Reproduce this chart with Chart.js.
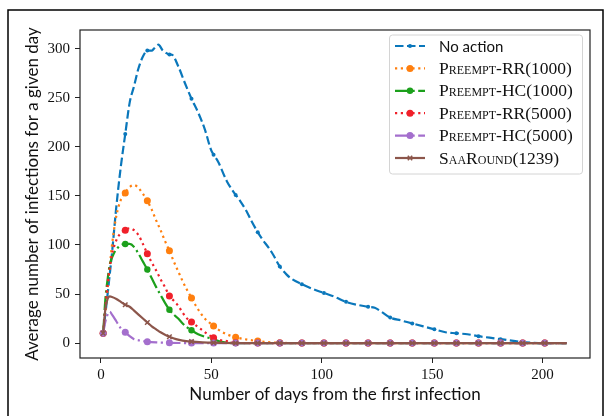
<!DOCTYPE html>
<html>
<head>
<meta charset="utf-8">
<script src="https://cdn.jsdelivr.net/npm/chart.js@4.4.1/dist/chart.umd.min.js"></script>
<style>
  html, body { margin: 0; padding: 0; background: #fff; }
  #wrap { position: relative; width: 605px; height: 416px; }
</style>
</head>
<body>
<div id="wrap"><canvas id="infChart" width="605" height="416"></canvas></div>
<script>
// days on the x axis
const markDays = [1, 11, 21, 31, 41, 51, 61, 71, 81, 91, 101, 111, 121, 131, 141, 151, 161, 171, 181, 191, 201];
const tailDays = [61, 71, 81, 91, 101, 111, 121, 131, 141, 151, 161, 171, 181, 191, 201, 211];
const tailZeros = tailDays.map(() => 0);

const noActionDays = [1, 3, 5, 7, 9, 11, 13, 15, 17, 19, 21, 23, 24, 26, 28, 30, 31, 32, 35, 38, 41, 44, 47, 50, 51, 53, 57, 61, 63, 66, 68, 71, 73, 76, 78, 81, 84, 86, 91, 96, 101, 106, 111, 116, 121, 124, 127, 131, 136, 141, 146, 151, 156, 161, 166, 171, 176, 181, 186, 191, 196, 201, 211];
const noActionVals = [10, 50, 92, 140, 180, 213, 245, 262, 280, 292, 298, 298, 300, 304, 298, 295, 294, 294, 282, 265, 249, 235, 218, 196, 192, 185, 165, 151, 145, 134, 125, 113, 106, 97, 90, 78, 70, 66, 60, 55, 51, 47, 42, 39, 37, 36, 32, 26, 23, 20, 17, 14, 11, 10, 9, 7, 5.5, 4, 2.5, 1, 0.3, 0, 0];

const rr1000Days = [1, 3, 5, 7, 9, 11, 13, 15, 17, 19, 21, 23, 25, 27, 29, 31, 33, 35, 37, 39, 41, 43, 45, 47, 49, 51, 53, 56].concat(tailDays);
const rr1000Vals = [10, 55, 100, 130, 146, 153, 159, 161, 158, 152, 145, 136, 125, 115, 104, 94, 83, 73, 63, 54, 46, 38, 31, 25, 21, 17.5, 14, 10, 6, 2, 0.3, 0, 0, 0, 0, 0, 0, 0, 0, 0, 0, 0, 0, 0];

const hc1000Days = [1, 2, 3, 4, 6, 8, 11, 13, 15, 17, 19, 21, 23, 25, 27, 29, 31, 33, 35, 37, 39, 41, 44, 47, 51, 54].concat(tailDays);
const hc1000Vals = [10, 45, 65, 80, 92, 98, 101, 101, 98, 91, 83, 75, 66, 57, 49, 41, 34, 29, 25, 20, 16, 13, 9, 6.5, 4, 1.5].concat(tailZeros);

const rr5000Days = [1, 3, 5, 7, 9, 11, 13, 15, 17, 19, 21, 23, 25, 27, 29, 31, 33, 35, 37, 39, 41, 43, 46, 49, 51, 54, 57].concat(tailDays);
const rr5000Vals = [10, 60, 90, 105, 112, 115, 117, 115, 110, 101, 91, 82, 74, 65, 57, 48, 43, 38, 31, 25, 21.5, 18, 13, 8, 5.5, 3, 2, 0.3, 0, 0, 0, 0, 0, 0, 0, 0, 0, 0, 0, 0, 0, 0, 0];

const hc5000Days = [1, 2, 3, 4, 5, 7, 9, 11, 13, 15, 18, 21, 26, 31, 41, 51].concat(tailDays);
const hc5000Vals = [10, 22, 29, 32, 29, 22, 15, 11, 7, 4, 2.5, 1.3, 0.6, 0.3, 0, 0].concat(tailZeros);

const saaDays = [1, 2, 3, 4, 5, 7, 9, 11, 13, 15, 17, 19, 21, 23, 25, 27, 29, 31, 34, 37, 41, 46, 51].concat(tailDays);
const saaVals = [10, 35, 45, 47.5, 47, 45, 42, 39, 37, 33, 29, 25, 21, 17, 14, 11, 8.5, 6.5, 4, 2.5, 1.5, 0.8, 0.4].concat(tailZeros);

const seriesLabels = ['No action', 'Preempt-RR(1000)', 'Preempt-HC(1000)', 'Preempt-RR(5000)', 'Preempt-HC(5000)', 'SaaRound(1239)'];
const yTicks = [0, 50, 100, 150, 200, 250, 300];
const xTicks = [0, 50, 100, 150, 200];

const colors = ['#0a77bb', '#ff7f0e', '#1ca01c', '#f0202a', '#a46fcd', '#8c564b'];
const dashes = [[8.5, 3.5], [2.2, 3.6], [14, 3.5, 2.2, 3.5], [2.2, 3.6], [14, 3.5, 2.2, 3.5], []];
const marks = [
  { style: 'circle', r: 2 },
  { style: 'circle', r: 3.5 },
  { style: 'circle', r: 3.2 },
  { style: 'circle', r: 3.5 },
  { style: 'circle', r: 3.5 },
  { style: 'crossRot', r: 3.2 }
];

const sansFont = 'Lato, "DejaVu Sans", sans-serif';
const serifFont = '"Liberation Serif", "DejaVu Serif", serif';

function toPoints(days, vals) {
  return days.map((d, i) => ({ x: d, y: vals[i] }));
}

const allData = [
  toPoints(noActionDays, noActionVals),
  toPoints(rr1000Days, rr1000Vals),
  toPoints(hc1000Days, hc1000Vals),
  toPoints(rr5000Days, rr5000Vals),
  toPoints(hc5000Days, hc5000Vals),
  toPoints(saaDays, saaVals)
];

const datasets = allData.map((pts, i) => ({
  label: seriesLabels[i],
  data: pts,
  borderColor: colors[i],
  backgroundColor: colors[i],
  borderWidth: 2.2,
  borderDash: dashes[i],
  cubicInterpolationMode: 'monotone',
  pointStyle: marks[i].style,
  pointRadius: ctx => (ctx.raw && markDays.includes(ctx.raw.x)) ? marks[i].r : 0,
  pointBorderWidth: (marks[i].style === 'circle') ? 0 : 1.5,
  pointHoverRadius: 0,
  order: 6 - i
}));

// frame around the plot and the figure
const framePlugin = {
  id: 'frames',
  beforeDraw(chart) {
    const c = chart.ctx;
    c.save();
    c.strokeStyle = '#000';
    c.lineWidth = 1.5;
    c.beginPath();
    c.moveTo(8, 416);
    c.lineTo(8, 10);
    c.lineTo(603, 10);
    c.lineTo(603, 416);
    c.stroke();
    c.restore();
  },
  afterDatasetsDraw(chart) {
    const a = chart.chartArea;
    const c = chart.ctx;
    c.save();
    c.strokeStyle = '#222';
    c.lineWidth = 1.2;
    c.strokeRect(a.left, a.top, a.right - a.left, a.bottom - a.top);
    c.restore();
  }
};

// legend drawn by hand: mixed fonts and line samples
const legendPlugin = {
  id: 'hand_legend',
  afterDraw(chart) {
    const c = chart.ctx;
    const bx = 389.5, by = 35, bw = 193, bh = 139;
    c.save();
    c.fillStyle = 'rgba(255,255,255,0.85)';
    c.strokeStyle = '#d4d4d4';
    c.lineWidth = 1;
    c.beginPath();
    c.roundRect(bx, by, bw, bh, 3);
    c.fill();
    c.stroke();

    seriesLabels.forEach((lab, i) => {
      const y = 46 + i * 22.4;
      c.strokeStyle = colors[i];
      c.lineWidth = 2.2;
      c.setLineDash(dashes[i]);
      c.beginPath();
      c.moveTo(395, y);
      c.lineTo(425, y);
      c.stroke();
      c.setLineDash([]);
      // marker in the middle
      const r = marks[i].r;
      c.fillStyle = colors[i];
      c.lineWidth = 1.5;
      c.beginPath();
      if (marks[i].style === 'circle') {
        c.arc(410, y, r, 0, Math.PI * 2);
        c.fill();
      } else {
        const d = r * 0.7;
        c.moveTo(410 - d, y - d); c.lineTo(410 + d, y + d);
        c.moveTo(410 - d, y + d); c.lineTo(410 + d, y - d);
        c.stroke();
      }
      c.fillStyle = '#111';
      c.textBaseline = 'middle';
      if (i === 0) {
        c.font = '15px ' + sansFont;
      } else {
        c.font = 'small-caps 17.5px ' + serifFont;
        if ('fontVariantCaps' in c) c.fontVariantCaps = 'small-caps';
      }
      c.fillText(lab, 439, y + 1);
      if ('fontVariantCaps' in c) c.fontVariantCaps = 'normal';
    });
    c.restore();
  }
};

const ctxInf = document.getElementById('infChart').getContext('2d');

const infChart = new Chart(ctxInf, {
  type: 'line',
  data: { datasets: datasets },
  options: {
    responsive: false,
    animation: false,
    layout: { padding: { left: 0, top: 30, right: 15, bottom: 0 } },
    plugins: {
      legend: { display: false },
      tooltip: { enabled: false }
    },
    scales: {
      x: {
        type: 'linear',
        min: -9.5,
        max: 221.5,
        afterFit: s => { s.height = 58; },
        afterBuildTicks: s => { s.ticks = xTicks.map(v => ({ value: v })); },
        grid: { drawOnChartArea: false, drawTicks: true, tickLength: 5, color: '#222', lineWidth: 1 },
        border: { display: false },
        ticks: { color: '#111', padding: 3, maxRotation: 0, font: { family: serifFont, size: 15 } },
        title: {
          display: true,
          text: 'Number of days from the first infection',
          color: '#111',
          padding: { top: 0, bottom: 11 },
          font: { family: sansFont, size: 17 }
        }
      },
      y: {
        type: 'linear',
        min: -15.2,
        max: 319,
        afterFit: s => { s.width = 80; },
        afterBuildTicks: s => { s.ticks = yTicks.map(v => ({ value: v })); },
        grid: { drawOnChartArea: false, drawTicks: true, tickLength: 5, color: '#222', lineWidth: 1 },
        border: { display: false },
        ticks: { color: '#111', padding: 5, font: { family: serifFont, size: 15 } },
        title: {
          display: true,
          text: 'Average number of infections for a given day',
          color: '#111',
          padding: { top: 22, bottom: 0 },
          font: { family: sansFont, size: 17 }
        }
      }
    }
  },
  plugins: [framePlugin, legendPlugin]
});
</script>
</body>
</html>
